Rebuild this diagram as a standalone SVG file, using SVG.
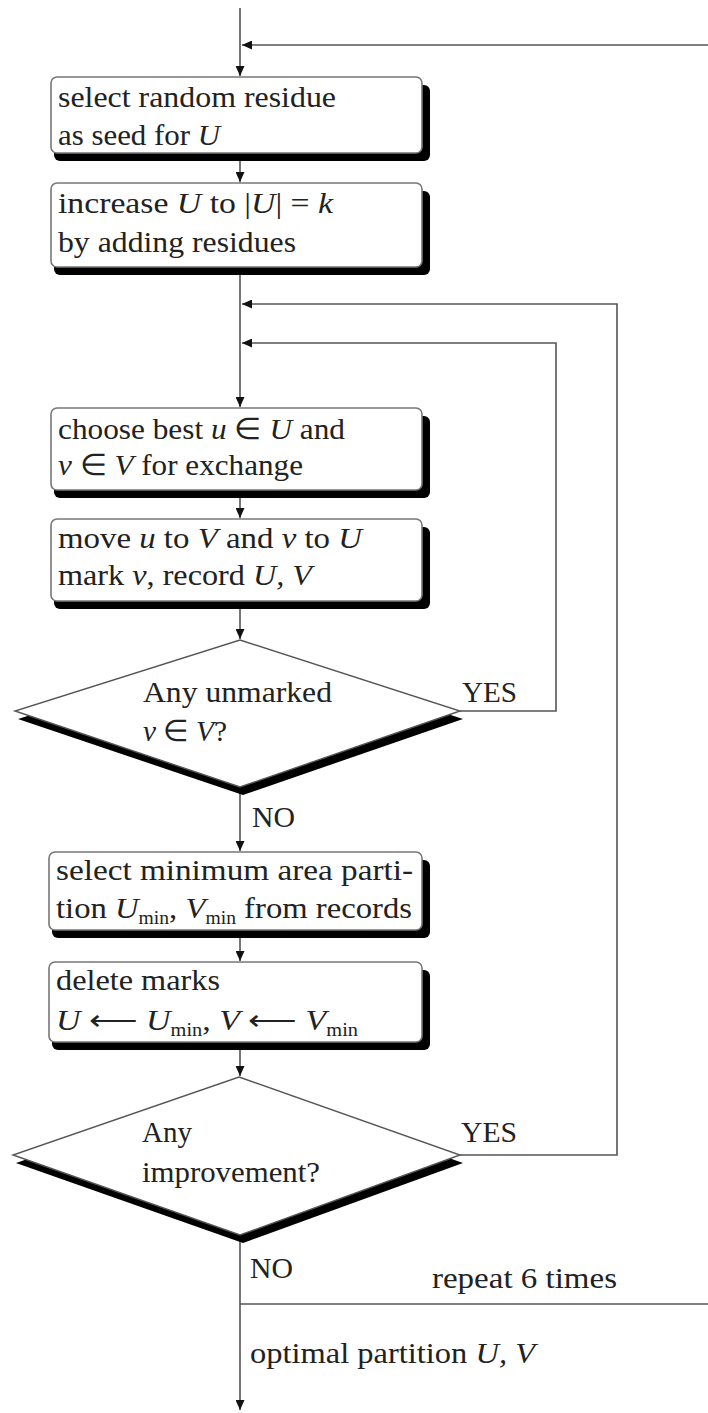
<svg xmlns="http://www.w3.org/2000/svg" width="708" height="1413" viewBox="0 0 708 1413">
<style>
text{font-family:"Liberation Serif","Times New Roman",serif;font-size:30px;fill:#222}
.i{font-style:italic}
.s{font-size:18px}
.box{fill:#fff;stroke:#777;stroke-width:1.6}
.sh{fill:#000}
.dia{fill:#fff;stroke:#555;stroke-width:1.4}
.ln{fill:none;stroke:#555;stroke-width:1.6}
</style>
<defs>
<marker id="ah" markerUnits="userSpaceOnUse" markerWidth="11" markerHeight="9" refX="10" refY="4.5" orient="auto">
<path d="M0,0 L10,4.5 L0,9 z" fill="#111"/>
</marker>
</defs>
<rect width="708" height="1413" fill="#fff"/>

<g id="connectors">
<path class="ln" d="M240,8 V76" marker-end="url(#ah)"/>
<path class="ln" d="M240,161 V182" marker-end="url(#ah)"/>
<path class="ln" d="M240,275 V407" marker-end="url(#ah)"/>
<path class="ln" d="M240,498 V518" marker-end="url(#ah)"/>
<path class="ln" d="M240,609 V639" marker-end="url(#ah)"/>
<path class="ln" d="M240,792 V851" marker-end="url(#ah)"/>
<path class="ln" d="M240,938 V961" marker-end="url(#ah)"/>
<path class="ln" d="M240,1050 V1076" marker-end="url(#ah)"/>
<path class="ln" d="M240,1240 V1410" marker-end="url(#ah)"/>
<path class="ln" d="M708,45 H242" marker-end="url(#ah)"/>
<path class="ln" d="M460,1155 H617 V304 H242" marker-end="url(#ah)"/>
<path class="ln" d="M460,711 H556 V343 H242" marker-end="url(#ah)"/>
<path class="ln" d="M240,1304 H708"/>
</g>

<g id="n1">
<rect class="sh" x="54" y="85" width="376" height="76" rx="6"/>
<rect class="box" x="51" y="77" width="371" height="76" rx="6"/>
<text x="58" y="107" textLength="278" lengthAdjust="spacingAndGlyphs">select random residue</text>
<text x="58" y="145" textLength="162" lengthAdjust="spacingAndGlyphs">as seed for <tspan class="i">U</tspan></text>
</g>

<g id="n2">
<rect class="sh" x="54" y="191" width="376" height="84" rx="6"/>
<rect class="box" x="51" y="183" width="371" height="84" rx="6"/>
<text x="58" y="213" textLength="275" lengthAdjust="spacingAndGlyphs">increase <tspan class="i">U</tspan> to |<tspan class="i">U</tspan>| = <tspan class="i">k</tspan></text>
<text x="58" y="252" textLength="238" lengthAdjust="spacingAndGlyphs">by adding residues</text>
</g>

<g id="n3">
<rect class="sh" x="54" y="416" width="376" height="82" rx="6"/>
<rect class="box" x="51" y="408" width="371" height="82" rx="6"/>
<text x="58" y="439" textLength="287" lengthAdjust="spacingAndGlyphs">choose best <tspan class="i">u</tspan> ∈ <tspan class="i">U</tspan> and</text>
<text x="58" y="475" textLength="245" lengthAdjust="spacingAndGlyphs"><tspan class="i">v</tspan> ∈ <tspan class="i">V</tspan>  for exchange</text>
</g>

<g id="n4">
<rect class="sh" x="54" y="527" width="376" height="82" rx="6"/>
<rect class="box" x="51" y="519" width="371" height="82" rx="6"/>
<text x="58" y="548" textLength="304" lengthAdjust="spacingAndGlyphs">move <tspan class="i">u</tspan> to <tspan class="i">V</tspan> and <tspan class="i">v</tspan> to <tspan class="i">U</tspan></text>
<text x="58" y="585" textLength="254" lengthAdjust="spacingAndGlyphs">mark <tspan class="i">v</tspan>, record <tspan class="i">U, V</tspan></text>
</g>

<g id="d1">
<polygon class="sh" points="243,648 463,719 243,795 18,719"/>
<polygon class="dia" points="240,640 460,711 240,787 15,711"/>
<text x="143" y="702" textLength="189" lengthAdjust="spacingAndGlyphs">Any unmarked</text>
<text x="143" y="741" textLength="84" lengthAdjust="spacingAndGlyphs"><tspan class="i">v</tspan> ∈ <tspan class="i">V</tspan>?</text>
</g>

<g id="n5">
<rect class="sh" x="52" y="860" width="378" height="78" rx="6"/>
<rect class="box" x="49" y="852" width="373" height="78" rx="6"/>
<text x="56" y="880" textLength="357" lengthAdjust="spacingAndGlyphs">select  minimum  area  parti-</text>
<text x="56" y="918" textLength="356" lengthAdjust="spacingAndGlyphs">tion <tspan class="i">U</tspan><tspan class="s" dy="6">min</tspan><tspan dy="-6">, </tspan><tspan class="i">V</tspan><tspan class="s" dy="6">min</tspan><tspan dy="-6"> from records</tspan></text>
</g>

<g id="n6">
<rect class="sh" x="52" y="970" width="378" height="80" rx="6"/>
<rect class="box" x="49" y="962" width="373" height="80" rx="6"/>
<text x="56" y="990" textLength="164" lengthAdjust="spacingAndGlyphs">delete marks</text>
<text x="56" y="1030" textLength="302" lengthAdjust="spacingAndGlyphs"><tspan class="i">U</tspan> ⟵ <tspan class="i">U</tspan><tspan class="s" dy="6">min</tspan><tspan dy="-6">, </tspan><tspan class="i">V</tspan> ⟵ <tspan class="i">V</tspan><tspan class="s" dy="6">min</tspan></text>
</g>

<g id="d2">
<polygon class="sh" points="242,1085 463,1163 243,1243 16,1163"/>
<polygon class="dia" points="239,1077 460,1155 240,1235 13,1155"/>
<text x="142" y="1142" textLength="50" lengthAdjust="spacingAndGlyphs">Any</text>
<text x="142" y="1182" textLength="178" lengthAdjust="spacingAndGlyphs">improvement?</text>
</g>

<g id="labels">
<text x="462" y="702" textLength="55" lengthAdjust="spacingAndGlyphs">YES</text>
<text x="461" y="1142" textLength="56" lengthAdjust="spacingAndGlyphs">YES</text>
<text x="252" y="827" textLength="43" lengthAdjust="spacingAndGlyphs">NO</text>
<text x="250" y="1278" textLength="43" lengthAdjust="spacingAndGlyphs">NO</text>
<text x="432" y="1288" textLength="185" lengthAdjust="spacingAndGlyphs">repeat 6 times</text>
<text x="250" y="1363" textLength="285" lengthAdjust="spacingAndGlyphs">optimal partition <tspan class="i">U, V</tspan></text>
</g>
</svg>
